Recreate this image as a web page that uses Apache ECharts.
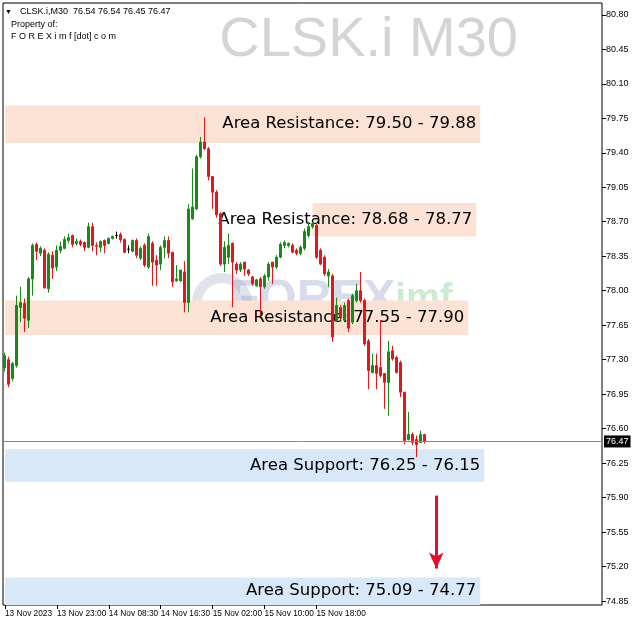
<!DOCTYPE html>
<html><head><meta charset="utf-8">
<script src="https://cdn.jsdelivr.net/npm/echarts/dist/echarts.min.js"></script>
<style>html,body{margin:0;padding:0;background:#fff;}#c{width:642px;height:628px;}</style>
</head><body><div id="c"></div>
<script>
const symbolName = 'CLSK.i';
const timeframe = 'M30';
const opens  = [77.22,77.30,77.11,77.24,77.83,77.87,77.70,78.12,78.47,78.38,78.41,78.02,78.36,78.24,78.41,78.43,78.51,78.56,78.48,78.50,78.49,78.44,78.65,78.46,78.44,78.51,78.48,78.53,78.56,78.57,78.52,78.42,78.40,78.51,78.33,78.46,78.24,78.48,78.31,78.27,78.44,78.51,78.39,78.10,78.10,78.19,77.88,78.73,78.83,79.36,79.51,79.44,79.16,79.00,78.78,78.27,78.34,78.48,78.27,78.21,78.29,78.21,78.14,78.05,78.12,78.04,78.14,78.29,78.24,78.34,78.46,78.46,78.46,78.41,78.38,78.43,78.56,78.65,78.66,78.41,78.34,78.15,78.15,77.70,77.83,77.70,77.90,77.68,77.90,78.00,77.90,77.49,77.17,77.24,77.22,77.16,77.07,77.39,77.32,77.27,76.97,76.49,76.54,76.49,76.46,76.54];
const highs  = [77.37,77.33,77.28,77.95,78.04,77.92,78.14,78.48,78.49,78.45,78.43,78.39,78.40,78.46,78.50,78.55,78.58,78.57,78.53,78.52,78.50,78.69,78.69,78.49,78.51,78.52,78.54,78.56,78.60,78.59,78.53,78.46,78.52,78.53,78.45,78.48,78.58,78.50,78.36,78.46,78.55,78.55,78.39,78.26,78.21,78.30,78.88,79.24,79.38,79.56,79.76,79.46,79.16,79.02,78.80,78.50,78.58,78.49,78.29,78.29,78.29,78.22,78.15,78.12,78.14,78.17,78.29,78.29,78.36,78.49,78.51,78.49,78.48,78.43,78.46,78.63,78.70,78.70,78.68,78.43,78.36,78.22,78.17,77.93,77.85,77.88,77.92,77.97,78.07,78.19,77.92,77.51,77.36,77.36,77.70,77.16,77.49,77.44,77.34,77.29,76.97,76.77,76.56,76.53,76.58,76.54];
const lows   = [77.18,77.02,77.08,77.22,77.68,77.58,77.62,77.95,78.31,78.35,78.02,77.98,78.12,78.20,78.38,78.42,78.48,78.44,78.46,78.45,78.40,78.43,78.40,78.36,78.39,78.38,78.47,78.52,78.53,78.49,78.38,78.38,78.39,78.33,78.31,78.24,78.22,78.05,78.05,78.21,78.33,78.33,78.04,78.09,78.09,77.78,77.78,78.72,78.82,79.34,79.43,79.12,78.83,78.74,78.25,78.19,78.27,77.83,78.17,78.19,78.15,78.15,78.05,78.04,77.75,78.02,78.10,78.07,78.22,78.33,78.43,78.44,78.38,78.36,78.36,78.41,78.54,78.63,78.32,78.26,78.15,78.04,77.48,77.68,77.70,77.68,77.58,77.66,77.88,77.88,77.44,77.00,77.16,77.00,77.12,76.80,76.73,77.29,77.16,76.92,76.44,76.48,76.43,76.31,76.46,76.45];
const closes = [77.34,77.05,77.26,77.85,77.88,77.72,78.12,78.46,78.40,78.43,78.03,78.37,78.23,78.41,78.45,78.52,78.54,78.47,78.50,78.47,78.44,78.65,78.46,78.45,78.50,78.46,78.53,78.55,78.56,78.52,78.39,78.42,78.51,78.36,78.43,78.26,78.55,78.29,78.26,78.44,78.51,78.38,78.09,78.12,78.21,77.88,78.83,78.85,79.36,79.51,79.44,79.16,79.00,78.77,78.27,78.44,78.46,78.29,78.21,78.27,78.22,78.17,78.07,78.11,78.04,78.15,78.27,78.24,78.34,78.47,78.49,78.48,78.39,78.38,78.44,78.60,78.65,78.68,78.34,78.27,78.17,78.19,77.53,77.85,77.73,77.85,77.62,77.95,78.00,77.90,77.46,77.19,77.24,77.16,77.14,77.07,77.38,77.31,77.17,76.97,76.48,76.54,76.46,76.44,76.54,76.47];

const timeLabels = ['13 Nov 2023','13 Nov 23:00','14 Nov 08:30','14 Nov 16:30','15 Nov 02:00','15 Nov 10:00','15 Nov 18:00'];
const labelStep = 13;
const slotCount = 150;
const priceTicks = [74.85,75.20,75.55,75.90,76.25,76.60,76.95,77.30,77.65,78.00,78.35,78.70,79.05,79.40,79.75,80.10,80.45,80.80];
const yMin = 74.81, yMax = 80.92;

const zoneText = ['Area Resistance: 79.50 - 79.88','Area Resistance: 78.68 - 78.77','Area Resistance: 77.55 - 77.90','Area Support: 76.25 - 76.15','Area Support: 75.09 - 74.77'];
const zoneHigh = [79.88, 78.89, 77.90, 76.39, 75.09];
const zoneLow  = [79.50, 78.55, 77.55, 76.06, 74.77];
const zoneFrom = [0, 77, 0, 0, 0];
const zoneTo   = [119, 118, 116, 120, 119];
const zoneKind = ['res','res','res','sup','sup'];

const arrowAt = 108, arrowFrom = 75.92, arrowTo = 75.18;

const UP = '#178a17', DOWN = '#e3161b';
const RES = '#fbe2d5', SUP = '#d8e8f8';
const FONT = '"Liberation Sans", Arial, sans-serif';

const cats = Array.from({length: slotCount}, (_, i) => String(i));
const candleData = opens.map((o, i) => {
  const v = [o, closes[i], lows[i], highs[i]];
  if (o === closes[i]) return {value: v, itemStyle: {color: '#000', color0: '#000', borderColor: '#000', borderColor0: '#000'}};
  return v;
});
const last = opens.length - 1;
const lastPrice = closes[last];
const showIdx = i => i % labelStep === 0 && i / labelStep < timeLabels.length;

const zonePairs = zoneText.map((t, k) => [
  {name: t, xAxis: cats[zoneFrom[k]], yAxis: zoneHigh[k], itemStyle: {color: zoneKind[k] === 'res' ? RES : SUP}},
  {xAxis: cats[zoneTo[k]], yAxis: Math.max(zoneLow[k], yMin)}
]);
const labelPairs = zoneText.map((t, k) => [
  {name: t, xAxis: cats[zoneFrom[k]], yAxis: zoneHigh[k]},
  {xAxis: cats[zoneTo[k]], yAxis: Math.max(zoneLow[k], yMin)}
]);

const chart = echarts.init(document.getElementById('c'), null, {renderer: 'canvas'});
chart.setOption({
  animation: false,
  backgroundColor: '#fff',
  grid: {left: 3, top: 3, right: 40, bottom: 23, show: true, borderColor: '#000', borderWidth: 1, backgroundColor: 'transparent'},
  xAxis: {
    type: 'category', data: cats, boundaryGap: true,
    axisLine: {show: false},
    axisTick: {show: true, alignWithLabel: true, interval: i => showIdx(i), length: 4, lineStyle: {color: '#000'}},
    axisLabel: {show: true, interval: i => showIdx(i), formatter: (v, i) => timeLabels[i / labelStep] || '', align: 'left',
      margin: 5, fontSize: 8.3, fontFamily: FONT, color: '#000', hideOverlap: false},
    splitLine: {show: false}
  },
  yAxis: {
    type: 'value', position: 'right', min: yMin, max: yMax, scale: true,
    axisLine: {show: false},
    axisTick: {show: true, customValues: priceTicks, length: 4, lineStyle: {color: '#000'}},
    axisLabel: {show: true, customValues: priceTicks, formatter: v => v.toFixed(2), margin: 4, fontSize: 9, fontFamily: FONT, color: '#000'},
    splitLine: {show: false}
  },
  series: [
    {type: 'line', name: 'zones', data: [], z: 1, silent: true,
      markArea: {silent: true, label: {show: false}, data: zonePairs}},
    {type: 'candlestick', name: symbolName, data: candleData, z: 3, barWidth: 2.5,
      itemStyle: {color: UP, color0: DOWN, borderColor: UP, borderColor0: DOWN, borderWidth: 1},
      markLine: {silent: true, symbol: ['none', 'none'], animation: false,
        lineStyle: {color: '#8a8a8a', width: 1, type: 'solid'},
        label: {show: true, position: 'end', formatter: () => lastPrice.toFixed(2), backgroundColor: '#000', color: '#fff',
          fontSize: 9, fontFamily: FONT, padding: [2, 2, 1, 2], distance: 2},
        data: [{yAxis: lastPrice}]}},
    {type: 'line', name: 'labels', data: [], z: 4, silent: true,
      markArea: {silent: true, itemStyle: {color: 'rgba(0,0,0,0)'},
        label: {show: true, position: 'insideRight', distance: 4, color: '#000', fontSize: 16.5, fontFamily: '"DejaVu Sans", sans-serif'},
        data: labelPairs}},
    {type: 'line', name: 'arrow', data: [], z: 5, silent: true,
      markLine: {silent: true, symbol: ['none', 'arrow'], symbolSize: [11, 16], animation: false,
        lineStyle: {color: '#e3102c', width: 3, type: 'solid'}, label: {show: false},
        data: [[{coord: [cats[arrowAt], arrowFrom]}, {coord: [cats[arrowAt], arrowTo]}]]}}
  ],
  graphic: [
    {type: 'text', z: 0, silent: true, style: {text: symbolName + ' ' + timeframe, x: 518, y: 41, textAlign: 'right', textVerticalAlign: 'middle',
      font: '56px "Liberation Sans", Arial, sans-serif', fill: '#d4d4d4'}},
    {type: 'circle', z: 0, silent: true, shape: {cx: 222, cy: 303, r: 25}, style: {fill: 'none', stroke: 'rgba(170,175,195,0.35)', lineWidth: 10}},
    {type: 'text', z: 0, silent: true, style: {x: 230, y: 300, textVerticalAlign: 'middle',
      text: '{a|FOREX}{b|imf}', rich: {a: {fontSize: 48, fontWeight: 'bold', fontFamily: FONT, fill: 'rgba(150,160,205,0.38)'},
        b: {fontSize: 38, fontWeight: 'bold', fontFamily: FONT, fill: 'rgba(120,205,130,0.38)'}}}},
    {type: 'text', z: 10, silent: true, style: {text: '▼', x: 5, y: 12, textVerticalAlign: 'middle', font: '7px ' + FONT, fill: '#000'}},
    {type: 'text', z: 10, silent: true, style: {text: symbolName + ',' + timeframe + '  ' + [opens[last], highs[last], lows[last], closes[last]].map(v => v.toFixed(2)).join(' '),
      x: 20, y: 12, textVerticalAlign: 'middle', font: '9px ' + FONT, fill: '#000'}},
    {type: 'text', z: 10, silent: true, style: {text: 'Property of:', x: 11, y: 25, textVerticalAlign: 'middle', font: '9px ' + FONT, fill: '#000'}},
    {type: 'text', z: 10, silent: true, style: {text: 'F O R E X i m f [dot] c o m', x: 11, y: 37, textVerticalAlign: 'middle', font: '9px ' + FONT, fill: '#000'}}
  ]
});
</script></body></html>
